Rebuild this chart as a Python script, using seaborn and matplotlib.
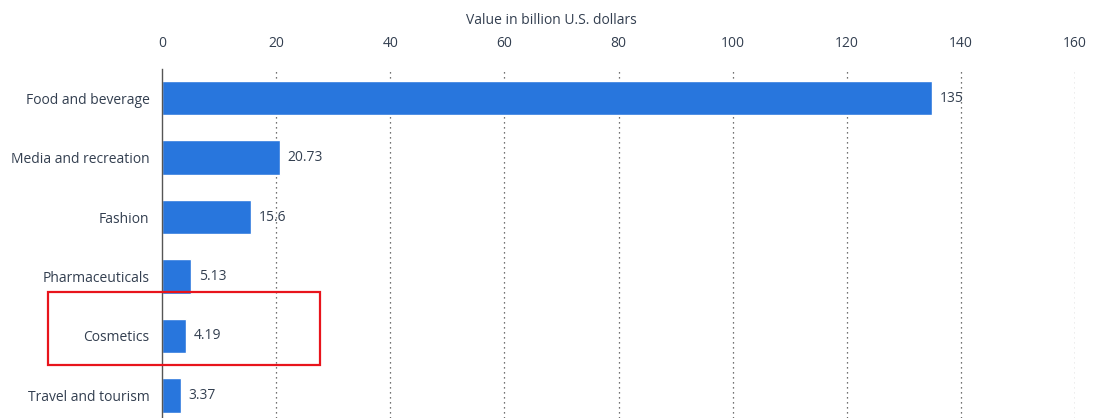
import matplotlib
matplotlib.use("Agg")
import matplotlib.pyplot as plt
import seaborn as sns
import pandas as pd
from matplotlib.patches import Rectangle

categories = ["Food and beverage", "Media and recreation", "Fashion",
              "Pharmaceuticals", "Cosmetics", "Travel and tourism"]
values = [135, 20.73, 15.6, 5.13, 4.19, 3.37]
value_labels = ["135", "20.73", "15.6", "5.13", "4.19", "3.37"]
x_ticks = [0, 20, 40, 60, 80, 100, 120, 140, 160]
x_label = "Value in billion U.S. dollars"

sns.set_theme(style="white")
plt.rcParams["font.family"] = ["Open Sans", "DejaVu Sans"]

text_color = "#333f50"
bar_color = "#2876dd"
fs = 10

df = pd.DataFrame({"category": categories, "value": values})

fig = plt.figure(figsize=(10.94, 4.18), dpi=100)
ax = fig.add_axes([162 / 1094, 0.0, (1075 - 162) / 1094, 1 - 69 / 418])

sns.barplot(data=df, x="value", y="category", orient="h", color=bar_color,
            saturation=1, width=0.58, ax=ax)

ax.set_xlim(0, 160)
ax.set_ylim(5.38, -0.49)
ax.set_xticks(x_ticks)
ax.xaxis.tick_top()
ax.xaxis.set_label_position("top")
ax.set_xlabel(x_label, fontsize=fs, color=text_color, labelpad=9)
ax.xaxis.set_label_coords((551 - 162) / 913, 1 + (69 - 20) / 349, transform=ax.transAxes)
ax.xaxis.label.set_va("center")
ax.set_ylabel("")
ax.tick_params(axis="x", length=0, pad=13, labelsize=fs, labelcolor=text_color)
ax.tick_params(axis="y", length=0, pad=9, labelsize=fs, labelcolor=text_color)

for s in ["top", "right", "bottom"]:
    ax.spines[s].set_visible(False)
ax.spines["left"].set_color("#555555")
ax.spines["left"].set_linewidth(1.0)

ax.grid(False)
for t in x_ticks[1:]:
    ax.axvline(t, color="#444444", linestyle=(0, (1, 3)), linewidth=0.9, zorder=0)

for i, (v, lab) in enumerate(zip(values, value_labels)):
    ax.text(v + 1.3, i, lab, va="center", ha="left", fontsize=fs, color=text_color)

# Highlight box around the cosmetics row
fig.patches.append(Rectangle((48 / 1094, 1 - 365 / 418), (320 - 48) / 1094, (365 - 292) / 418,
                             transform=fig.transFigure, fill=False,
                             edgecolor="#e8141c", linewidth=1.6))

fig.savefig("out.png", dpi=100)
